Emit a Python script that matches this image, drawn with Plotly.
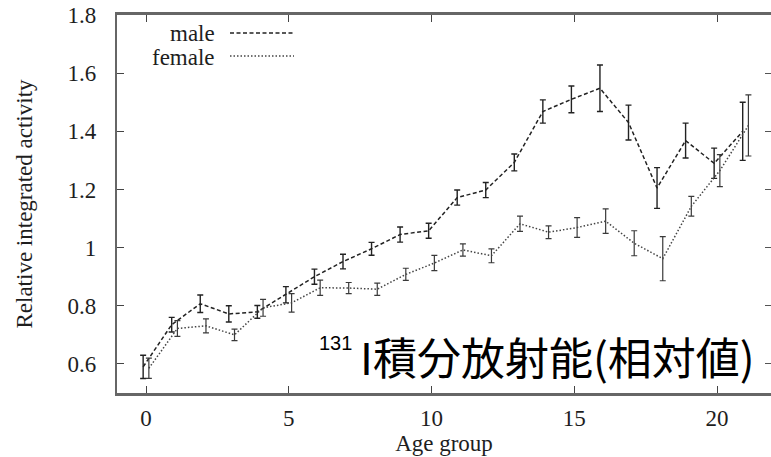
import plotly.graph_objects as go

# ---------------- data ----------------
ages = list(range(22))
male = [0.59, 0.735, 0.807, 0.772, 0.779, 0.838, 0.90, 0.952, 0.996, 1.045, 1.058,
        1.172, 1.198, 1.293, 1.468, 1.51, 1.548, 1.43, 1.205, 1.368, 1.29, 1.40]
male_err = [0.04, 0.025, 0.03, 0.028, 0.022, 0.028, 0.026, 0.025, 0.022, 0.026, 0.026,
            0.026, 0.026, 0.029, 0.04, 0.046, 0.08, 0.06, 0.07, 0.06, 0.052, 0.10]
female = [0.585, 0.722, 0.731, 0.70, 0.793, 0.81, 0.862, 0.861, 0.857, 0.908, 0.947,
          0.992, 0.972, 1.082, 1.053, 1.069, 1.091, 1.015, 0.962, 1.142, 1.265, 1.42]
female_err = [0.035, 0.027, 0.024, 0.02, 0.029, 0.032, 0.026, 0.019, 0.021, 0.021, 0.026,
              0.021, 0.024, 0.026, 0.022, 0.034, 0.042, 0.043, 0.076, 0.034, 0.055, 0.105]
x_ticks = [0, 5, 10, 15, 20]
y_ticks = [0.6, 0.8, 1.0, 1.2, 1.4, 1.6, 1.8]
y_tick_text = ["0.6", "0.8", "1", "1.2", "1.4", "1.6", "1.8"]
series_names = ["male", "female"]
x_title = "Age group"
y_title = "Relative integrated activity"
overlay_sup = "131"
overlay_text = "I積分放射能(相対値)"

# ---------------- layout geometry ----------------
W, H = 771, 457
L, R, T, B = 117, 0, 15, 64
PX0, PX1 = L, W - R
PY0, PY1 = T, H - B


def px(xp):
    return (xp - PX0) / (PX1 - PX0)


def py(yp):
    return (PY1 - yp) / (PY1 - PY0)


SERIF = "Liberation Serif, Times New Roman, serif"
INK = "#1e1e1e"

fig = go.Figure()

fig.add_trace(go.Scatter(
    x=[a - 0.1 for a in ages], y=male, name=series_names[0], mode="lines",
    line=dict(color="#222222", width=1.5, dash="4px,2.5px"),
    error_y=dict(type="data", array=male_err, visible=True, color="#222222",
                 thickness=1.4, width=3),
    showlegend=False, hoverinfo="x+y"))
fig.add_trace(go.Scatter(
    x=[a + 0.1 for a in ages], y=female, name=series_names[1], mode="lines",
    line=dict(color="#444444", width=1.5, dash="1.5px,2px"),
    error_y=dict(type="data", array=female_err, visible=True, color="#3a3a3a",
                 thickness=1.2, width=3),
    showlegend=False, hoverinfo="x+y"))
# invisible trace to carry the right-hand tick axis
fig.add_trace(go.Scatter(x=ages, y=male, yaxis="y2", mode="markers",
                         marker=dict(opacity=0), showlegend=False, hoverinfo="skip"))

xr0 = -(146 - PX0) / 28.55
xr1 = (PX1 - 146) / 28.55

fig.update_layout(
    width=W, height=H,
    margin=dict(l=L, r=R, t=T, b=B, pad=0),
    paper_bgcolor="white", plot_bgcolor="white",
    font=dict(family=SERIF, color=INK),
    xaxis=dict(range=[xr0, xr1], tickvals=x_ticks, ticks="inside", ticklen=7,
               tickwidth=1.3, tickcolor="#444", showline=True, linecolor="#666",
               linewidth=2.5, mirror="ticks", showgrid=False, zeroline=False,
               tickfont=dict(family=SERIF, size=23, color=INK),
               ticklabelstandoff=3,
               title=dict(text=x_title, font=dict(family=SERIF, size=23, color=INK),
                          standoff=0)),
    yaxis=dict(range=[0.5, 1.8], tickvals=y_ticks, ticktext=y_tick_text,
               ticks="inside", ticklen=7, tickwidth=1.3, tickcolor="#444",
               showline=True, linecolor="#666", linewidth=2.2, showgrid=False,
               zeroline=False, tickfont=dict(family=SERIF, size=23, color=INK),
               ticklabelstandoff=14,
               title=dict(text=y_title, font=dict(family=SERIF, size=23, color=INK),
                          standoff=28)),
    yaxis2=dict(range=[0.5, 1.8], overlaying="y", side="right", tickvals=y_ticks,
                ticks="inside", ticklen=6, tickwidth=1.3, tickcolor="#555",
                showticklabels=False, showline=False, showgrid=False, zeroline=False),
)

# legend drawn gnuplot style: label then line sample
leg = [(series_names[0], 33, "4px,2.5px", "#222222"),
       (series_names[1], 56, "1.5px,2px", "#444444")]
for name, ypix, dash, col in leg:
    fig.add_annotation(x=px(217), y=py(ypix + 1), xref="paper", yref="paper",
                       text=name, showarrow=False, xanchor="right", yanchor="middle",
                       font=dict(family=SERIF, size=23, color=INK))
    fig.add_shape(type="line", xref="paper", yref="paper",
                  x0=px(230), x1=px(294), y0=py(ypix), y1=py(ypix),
                  line=dict(color=col, width=1.3, dash=dash))

# overlay label
fig.add_annotation(x=px(354), y=py(343), xref="paper", yref="paper", text=overlay_sup,
                   showarrow=False, xanchor="right", yanchor="middle",
                   font=dict(family="Liberation Sans, Arial, sans-serif", size=20,
                             color="black"))
fig.add_annotation(x=px(358), y=py(356), xref="paper", yref="paper", text=overlay_text,
                   showarrow=False, xanchor="left", yanchor="middle",
                   font=dict(family="Noto Sans CJK JP, sans-serif", size=44,
                             color="black"))

fig.write_html("out.html")
